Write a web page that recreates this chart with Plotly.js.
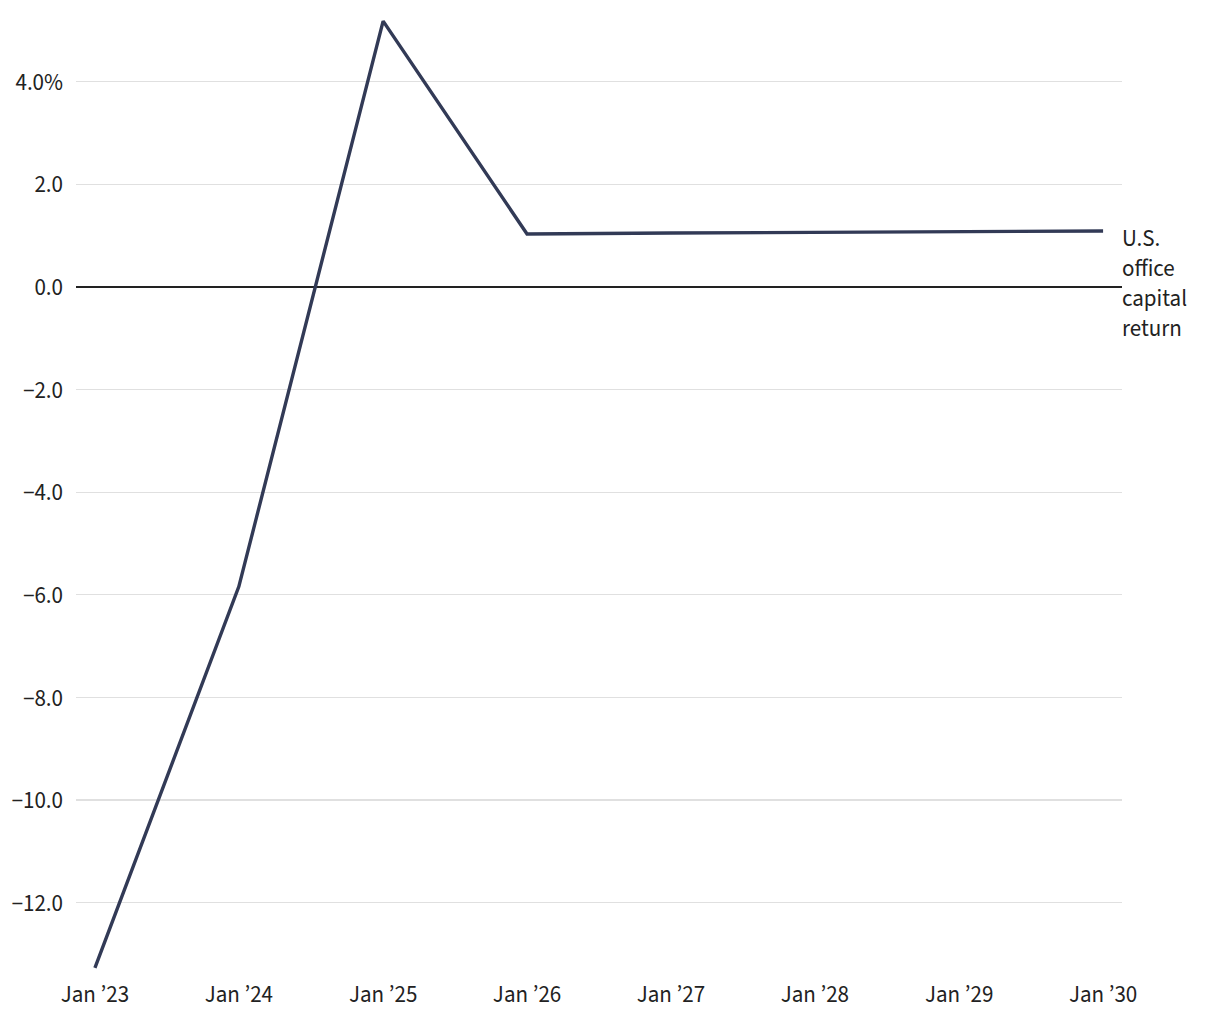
<!DOCTYPE html>
<html>
<head>
<meta charset="utf-8">
<script src="https://cdn.plot.ly/plotly-3.0.1.min.js"></script>
<style>
  html, body { margin: 0; padding: 0; background: #fff; }
  #chart { width: 1220px; height: 1020px; }
</style>
</head>
<body>
<div id="chart"></div>
<script>
const dates = ["2023-01-01", "2024-01-01", "2025-01-01", "2026-01-01", "2027-01-01", "2028-01-01", "2029-01-01", "2030-01-01"];
const capitalReturn = [-13.27, -5.84, 5.18, 1.03, 1.05, 1.06, 1.08, 1.09];
const seriesLabel = "U.S.<br>office<br>capital<br>return";
const yTickVals = [-12, -10, -8, -6, -4, -2, 0, 2, 4];
const yTickText = ["\u221212.0", "\u221210.0", "\u22128.0", "\u22126.0", "\u22124.0", "\u22122.0", "0.0", "2.0", "4.0%"];

const font = "'Source Sans Pro', 'Source Sans 3', Lato, 'Noto Sans', sans-serif";
const fs = 23;

Plotly.newPlot("chart", [{
  x: dates,
  y: capitalReturn,
  type: "scatter",
  mode: "lines",
  line: { color: "#323a56", width: 3.4 },
  hoverinfo: "x+y"
}], {
  width: 1220,
  height: 1020,
  margin: { l: 76, r: 98, t: 18, b: 48 },
  paper_bgcolor: "#fff",
  plot_bgcolor: "#fff",
  font: { family: font, size: fs, color: "#222" },
  showlegend: false,
  xaxis: {
    type: "date",
    range: ["2022-11-14", "2030-02-18"],
    tickvals: dates,
    tickformat: "%b \u2019%y",
    showgrid: false,
    zeroline: false,
    showline: false,
    ticks: "",
    ticklabelstandoff: 6,
    tickfont: { family: font, size: fs, color: "#222" }
  },
  yaxis: {
    range: [-13.35, 5.24],
    tickvals: yTickVals,
    ticktext: yTickText,
    showgrid: true,
    gridcolor: "#e0e0e0",
    gridwidth: 1.3,
    zeroline: true,
    zerolinecolor: "#222",
    zerolinewidth: 1.3,
    showline: false,
    ticks: "",
    ticklabelstandoff: 12,
    tickfont: { family: font, size: fs, color: "#222" }
  },
  annotations: [{
    xref: "paper",
    x: 1,
    xanchor: "left",
    xshift: -2,
    yref: "y",
    y: capitalReturn[capitalReturn.length - 1],
    yanchor: "top",
    yshift: 11,
    align: "left",
    showarrow: false,
    text: seriesLabel,
    font: { family: font, size: fs, color: "#222" }
  }]
}, { displayModeBar: false, staticPlot: true });
</script>
</body>
</html>
